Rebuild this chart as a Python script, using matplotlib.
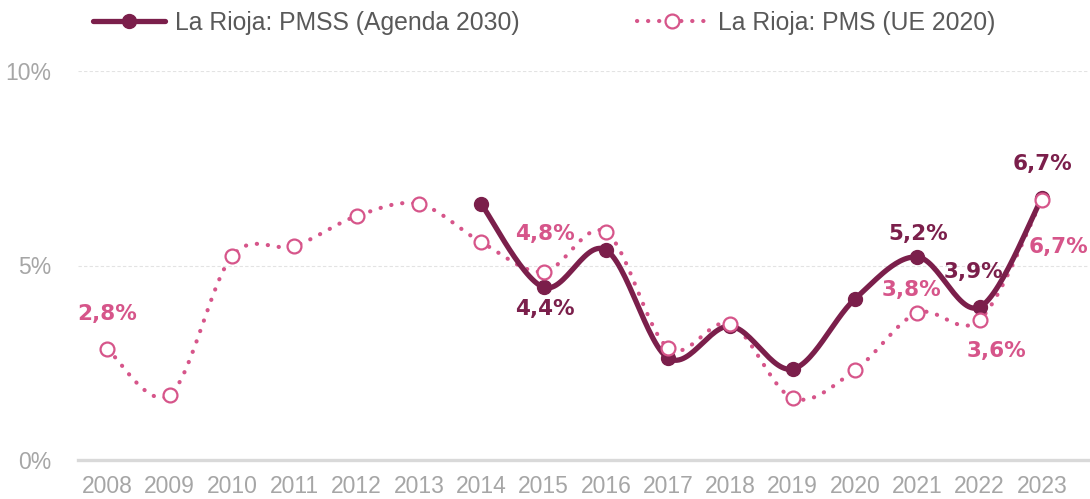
import numpy as np
import matplotlib
matplotlib.use("Agg")
import matplotlib.pyplot as plt
from matplotlib.lines import Line2D

years = list(range(2008, 2024))
pms_years = years
pms_vals = [2.85, 1.67, 5.24, 5.50, 6.27, 6.58, 5.60, 4.84, 5.86, 2.88, 3.50, 1.59, 2.31, 3.78, 3.60, 6.68]
pmss_years = list(range(2014, 2024))
pmss_vals = [6.58, 4.44, 5.40, 2.62, 3.44, 2.34, 4.14, 5.22, 3.93, 6.73]

pms_labels = {2008: "2,8%", 2015: "4,8%", 2021: "3,8%", 2022: "3,6%", 2023: "6,7%"}
pmss_labels = {2015: "4,4%", 2021: "5,2%", 2022: "3,9%", 2023: "6,7%"}

C_PMSS = "#7B1F4B"
C_PMS = "#D6558A"
GREY = "#A6A6A6"


def smooth(xs, ys, n=30):
    xs = np.asarray(xs, float)
    ys = np.asarray(ys, float)
    P = np.column_stack([xs, ys])
    m = len(P)
    out = []
    for i in range(m - 1):
        p0 = P[i - 1] if i > 0 else P[i]
        p1 = P[i]
        p2 = P[i + 1]
        p3 = P[i + 2] if i + 2 < m else P[i + 1]
        c1 = p1 + (p2 - p0) / 6.0
        c2 = p2 - (p3 - p1) / 6.0
        t = np.linspace(0, 1, n)[:, None]
        seg = ((1 - t) ** 3) * p1 + 3 * ((1 - t) ** 2) * t * c1 + 3 * (1 - t) * t ** 2 * c2 + t ** 3 * p2
        out.append(seg if i == 0 else seg[1:])
    s = np.vstack(out)
    return s[:, 0], s[:, 1]


fig = plt.figure(figsize=(10.9, 4.99), dpi=100)
ax = fig.add_axes([78 / 1090, 39 / 499, 1010 / 1090, 389 / 499])
ax.set_xlim(2007.527, 2023.74)
ax.set_ylim(0, 10)

for v in [5, 10]:
    ax.axhline(v, color="#E3E3E3", lw=0.8, ls=(0, (3, 2)), zorder=0)
ax.axhline(0, color="#D9D9D9", lw=2.4, zorder=1, clip_on=False)

# PMS (dotted, open markers)
sx, sy = smooth(pms_years, pms_vals)
ax.plot(sx, sy, color=C_PMS, lw=3.0, ls=(0, (0.05, 2.6)), dash_capstyle="round", zorder=3, clip_on=False)

# PMSS (solid, filled markers)
tx, ty = smooth(pmss_years, pmss_vals)
ax.plot(tx, ty, color=C_PMSS, lw=3.8, solid_capstyle="round", zorder=4, clip_on=False)
ax.plot(pmss_years, pmss_vals, ls="none", marker="o", ms=10, color=C_PMSS, zorder=5, clip_on=False)
ax.plot(pms_years, pms_vals, ls="none", marker="o", ms=10, mfc="white", mec=C_PMS, mew=1.6, zorder=6, clip_on=False)

# data labels (offsets in pixels)
pms_off = {2008: (0, 35), 2015: (1, 38), 2021: (-6, 23), 2022: (17, -31), 2023: (17, -47)}
pmss_off = {2015: (1, -22), 2021: (1, 23), 2022: (-6, 35), 2023: (1, 34)}
lab_font = dict(fontsize=15.5, fontweight="bold", family="DejaVu Sans", ha="center", va="center")
for yv, txt in pms_labels.items():
    val = pms_vals[pms_years.index(yv)]
    ax.annotate(txt, (yv, val), xytext=pms_off[yv], textcoords="offset pixels", color=C_PMS, zorder=7, **lab_font)
for yv, txt in pmss_labels.items():
    val = pmss_vals[pmss_years.index(yv)]
    ax.annotate(txt, (yv, val), xytext=pmss_off[yv], textcoords="offset pixels", color=C_PMSS, zorder=7, **lab_font)

ax.set_xticks(years)
ax.set_xticklabels([str(y) for y in years])
ax.set_yticks([0, 5, 10])
ax.set_yticklabels(["0%", "5%", "10%"])
ax.tick_params(axis="both", length=0, colors=GREY, labelsize=16.5)
ax.tick_params(axis="x", pad=11)
ax.tick_params(axis="y", pad=19)
for lab in ax.get_xticklabels() + ax.get_yticklabels():
    lab.set_family("Liberation Sans")
for sp in ax.spines.values():
    sp.set_visible(False)

handles = [
    Line2D([], [], color=C_PMSS, lw=3.8, marker="o", ms=10, solid_capstyle="round"),
    Line2D([], [], color=C_PMS, lw=3.0, ls=(0, (0.05, 2.6)), dash_capstyle="round",
           marker="o", ms=10, mfc="white", mec=C_PMS, mew=1.6),
]
leg = fig.legend(handles, ["La Rioja: PMSS (Agenda 2030)", "La Rioja: PMS (UE 2020)"],
                 loc="center left", bbox_to_anchor=(93 / 1090, 1 - 23 / 499), ncol=2, frameon=False,
                 handlelength=2.9, handletextpad=0.4, columnspacing=4.75,
                 prop={"family": "Liberation Sans", "size": 17.8}, borderaxespad=0, borderpad=0)
for t in leg.get_texts():
    t.set_color("#595959")

fig.savefig("out.png", dpi=100)
